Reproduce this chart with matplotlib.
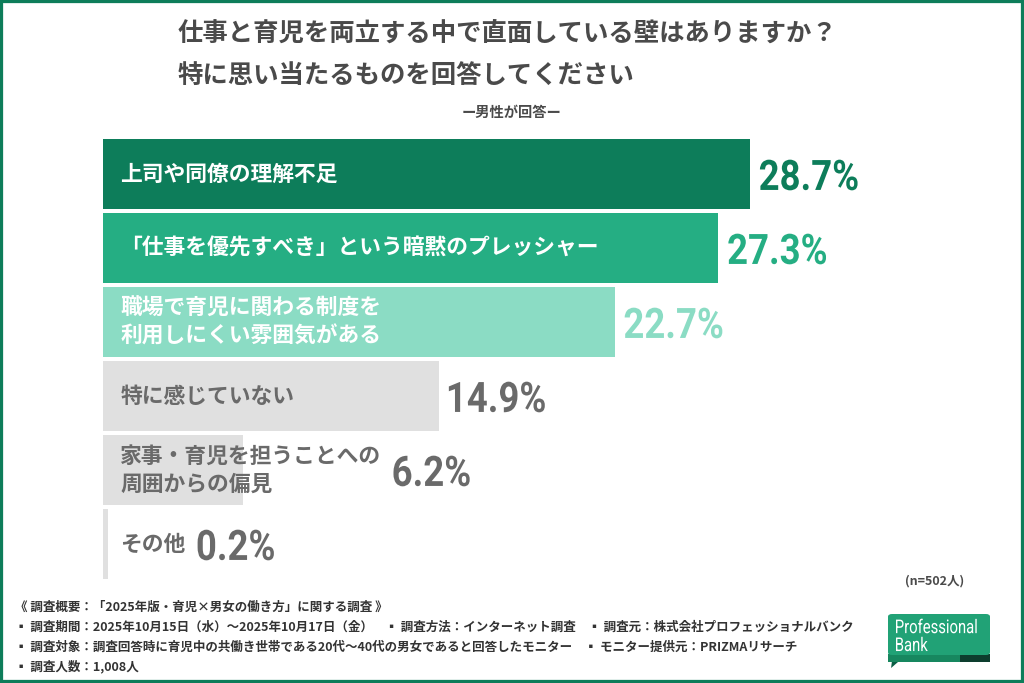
import matplotlib.pyplot as plt
from matplotlib.patches import Rectangle, FancyBboxPatch, Polygon, PathPatch
from matplotlib.textpath import TextPath
from matplotlib.font_manager import FontProperties
from matplotlib.transforms import Affine2D, IdentityTransform

plt.rcParams['font.family'] = ['Noto Sans CJK JP', 'DejaVu Sans']

# data
labels = ["上司や同僚の理解不足",
          "「仕事を優先すべき」という暗黙のプレッシャー",
          "職場で育児に関わる制度を\n利用しにくい雰囲気がある",
          "特に感じていない",
          "家事・育児を担うことへの\n周囲からの偏見",
          "その他"]
values = [28.7, 27.3, 22.7, 14.9, 6.2, 0.2]
bar_colors = ["#0d7d5a", "#25ae83", "#8bdcc4", "#e0e0e0", "#e0e0e0", "#e0e0e0"]
label_colors = ["white", "white", "white", "#6a6a6a", "#6a6a6a", "#6a6a6a"]
pct_colors = ["#0d7d5a", "#25ae83", "#8bdcc4", "#6a6a6a", "#6a6a6a", "#6a6a6a"]

title1 = "仕事と育児を両立する中で直面している壁はありますか？"
title2 = "特に思い当たるものを回答してください"
subtitle = "ー男性が回答ー"
n_note = "(n=502人)"
footer = ["《 調査概要：「2025年版・育児×男女の働き方」に関する調査 》",
          "▪ 調査期間：2025年10月15日（水）～2025年10月17日（金）　▪ 調査方法：インターネット調査　▪ 調査元：株式会社プロフェッショナルバンク",
          "▪ 調査対象：調査回答時に育児中の共働き世帯である20代～40代の男女であると回答したモニター　▪ モニター提供元：PRIZMAリサーチ",
          "▪ 調査人数：1,008人"]

W, H = 1024, 683
fig = plt.figure(figsize=(W / 100, H / 100), dpi=100)
fig.patch.set_facecolor("white")

def fy(py):
    return 1 - py / H

# narrow text drawn as a squeezed path (no condensed font installed)
def narrow_text(x_px, y_px, s, size_px, color, sx=0.87, weight="bold", zorder=6):
    fp = FontProperties(family="Roboto", weight=weight)
    tp = TextPath((0, 0), s, size=size_px, prop=fp)
    ext = tp.get_extents()
    tr = Affine2D().translate(-ext.x0, -(ext.y0 + ext.y1) / 2).scale(sx, 1).translate(x_px, H - y_px)
    patch = PathPatch(tr.transform_path(tp), facecolor=color, edgecolor="none",
                      transform=IdentityTransform(), zorder=zorder)
    fig.add_artist(patch)

# green frame
fig.patches.append(Rectangle((0, 0), 1, 1, transform=fig.transFigure, fill=False,
                             edgecolor="#0d7d5a", linewidth=4.5, zorder=10))

# titles
fig.text(178 / W, fy(33), title1, fontsize=18.3, fontweight="bold", color="#4a4a4a", va="center", ha="left")
fig.text(178 / W, fy(75), title2, fontsize=18.3, fontweight="bold", color="#4a4a4a", va="center", ha="left")
fig.text(512 / W, fy(113), subtitle, fontsize=10.3, fontweight="bold", color="#4a4a4a", va="center", ha="center")

# bars: 22.54 px per percent
ax = fig.add_axes([103 / W, fy(581), 901 / W, 444 / H])
ax.set_xlim(0, 901 / 22.54)
ax.set_ylim(5.5, -0.5)
ax.axis("off")
ypos = list(range(len(values)))
ax.barh(ypos, values, height=70 / 74, color=bar_colors, left=0)

fig.canvas.draw()
renderer = fig.canvas.get_renderer()
for i, (lab, v) in enumerate(zip(labels, values)):
    t = ax.annotate(lab, xy=(0, i), xytext=(12.5, 0), textcoords="offset points",
                    fontsize=15.7, fontweight="bold", color=label_colors[i],
                    va="center", ha="left", linespacing=1.25)
    bb = t.get_window_extent(renderer)
    bar_end, yc = ax.transData.transform((v, i))
    if bb.x1 > bar_end:
        xpix = bb.x1 + 12
    else:
        xpix = bar_end + 10
    narrow_text(xpix, H - yc + 1, f"{v}%", 42, pct_colors[i])

fig.text(935 / W, fy(581), n_note, fontsize=9, fontweight="bold", color="#4a4a4a", va="center", ha="center")

# footer
for k, line in enumerate(footer):
    fig.text(15 / W, fy(607 + 20 * k), line, fontsize=9, fontweight="bold", color="#333333",
             va="center", ha="left")

# logo
lx0, lx1 = 888 / W, 990 / W
fig.patches.append(Polygon([(lx0 + 0.004, fy(660)), (lx0 + 0.012, fy(660)), (lx0 + 0.003, fy(668))],
                           closed=True, transform=fig.transFigure, facecolor="#0b5e44", zorder=4))
fig.patches.append(Rectangle((lx0, fy(662)), lx1 - lx0, 8 / H, transform=fig.transFigure,
                             facecolor="#0d3d2e", zorder=4))
fig.patches.append(Rectangle((lx0, fy(662)), 0.07, 8 / H, transform=fig.transFigure,
                             facecolor="#17875f", zorder=4))
fig.patches.append(FancyBboxPatch((lx0, fy(655)), lx1 - lx0, 41 / H, boxstyle="round,pad=0,rounding_size=0.004",
                                  transform=fig.transFigure, facecolor="#21a276", edgecolor="none", zorder=5))
narrow_text(896, 626, "Professional", 19, "white", sx=0.78, weight="normal")
narrow_text(896, 644, "Bank", 19, "white", sx=0.78, weight="normal")

fig.savefig("out.png", dpi=100, facecolor="white")
